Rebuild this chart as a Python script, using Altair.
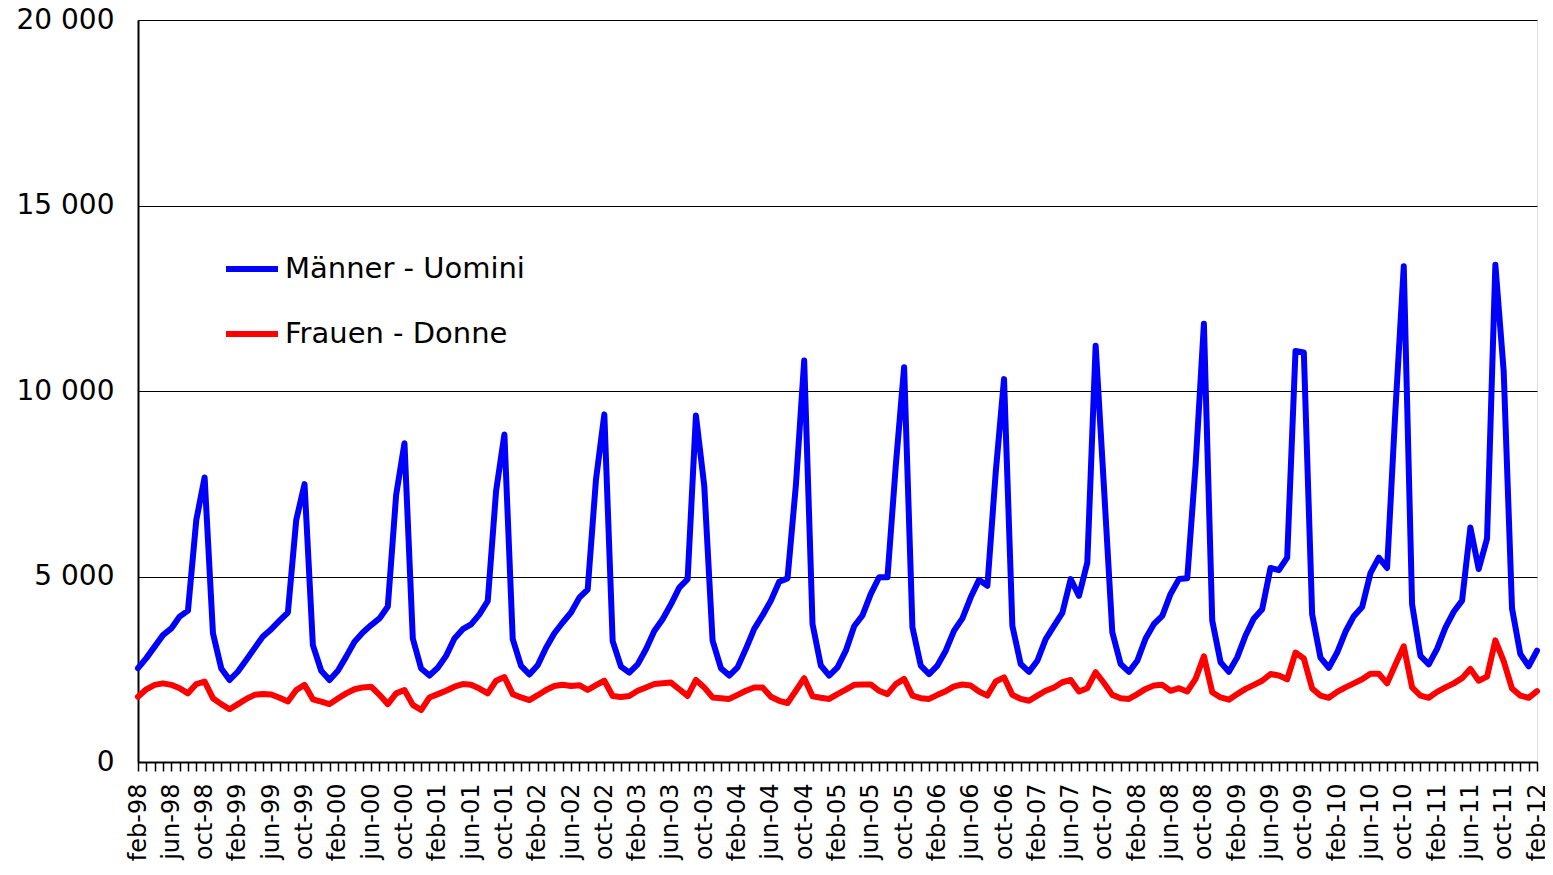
import json
import altair as alt
import pandas as pd

men = [2530, 2800, 3110, 3420, 3600, 3920, 4080, 6520, 7670, 3470, 2520, 2210,
       2440, 2750, 3070, 3380, 3580, 3810, 4030, 6520, 7490, 3150, 2460, 2210,
       2460, 2840, 3240, 3490, 3690, 3870, 4190, 7200, 8590, 3330, 2520, 2330,
       2540, 2860, 3330, 3580, 3710, 3980, 4340, 7300, 8830, 3310, 2590, 2360,
       2610, 3080, 3470, 3760, 4030, 4430, 4650, 7620, 9370, 3260, 2570, 2410,
       2630, 3040, 3530, 3850, 4250, 4700, 4930, 9340, 7440, 3270, 2530, 2330,
       2550, 3050, 3590, 3950, 4350, 4860, 4950, 7450, 10820, 3720, 2600, 2330,
       2550, 3000, 3660, 3950, 4530, 4980, 4980, 7990, 10640, 3630, 2600, 2370,
       2600, 3000, 3540, 3870, 4440, 4910, 4750, 7810, 10320, 3670, 2640, 2430,
       2730, 3310, 3670, 4020, 4930, 4480, 5380, 11220, 7400, 3500, 2640, 2430,
       2730, 3330, 3720, 3940, 4530, 4930, 4950, 7990, 11810, 3810, 2690, 2430,
       2820, 3410, 3870, 4120, 5230, 5170, 5510, 11080, 11040, 3980, 2815, 2540,
       2950, 3510, 3930, 4180, 5090, 5510, 5230, 9490, 13360, 4250, 2860, 2630,
       3050, 3620, 4050, 4350, 6320, 5200, 6020, 13400, 10530, 4140, 2910, 2580,
       3000]

women = [1760, 1960, 2080, 2120, 2080, 1990, 1850, 2100, 2170, 1720, 1560, 1420,
         1560, 1700, 1810, 1830, 1820, 1730, 1630, 1940, 2080, 1690, 1630, 1560,
         1710, 1850, 1960, 2010, 2030, 1810, 1560, 1850, 1940, 1540, 1400, 1740,
         1830, 1920, 2030, 2100, 2080, 1980, 1850, 2190, 2290, 1830, 1740, 1670,
         1800, 1940, 2050, 2080, 2050, 2070, 1940, 2070, 2190, 1780, 1750, 1780,
         1920, 2010, 2100, 2120, 2140, 1960, 1780, 2210, 2010, 1740, 1720, 1700,
         1810, 1920, 2010, 2010, 1760, 1650, 1590, 1920, 2260, 1770, 1730, 1700,
         1830, 1950, 2080, 2090, 2090, 1920, 1830, 2100, 2240, 1790, 1720, 1700,
         1810, 1910, 2040, 2090, 2060, 1900, 1790, 2170, 2280, 1810, 1700, 1650,
         1790, 1920, 2010, 2150, 2210, 1900, 1990, 2420, 2130, 1810, 1720, 1700,
         1830, 1970, 2060, 2080, 1920, 1990, 1900, 2240, 2850, 1880, 1740, 1680,
         1830, 1970, 2080, 2190, 2370, 2330, 2230, 2950, 2790, 1980, 1790, 1730,
         1890, 2010, 2120, 2230, 2380, 2380, 2120, 2630, 3120, 2010, 1790, 1730,
         1890, 2010, 2120, 2260, 2510, 2190, 2300, 3280, 2720, 1980, 1790, 1730,
         1910]

series_names = ["Männer - Uomini", "Frauen - Donne"]
series_colors = ["#0000FF", "#FF0000"]

tick_labels = []
for yy in range(98, 112):
    y2 = f"{yy % 100:02d}"
    tick_labels += [f"feb-{y2}", f"jun-{y2}", f"oct-{y2}"]
tick_labels.append("feb-12")

n = len(men)
df = pd.DataFrame({
    "i": list(range(n)) * 2,
    "value": men + women,
    "series": [series_names[0]] * n + [series_names[1]] * n,
})

label_expr = ("datum.value % 4 == 0 ? " + json.dumps(tick_labels)
              + "[datum.value / 4] : ''")

chart = alt.Chart(df).mark_line(strokeWidth=6, strokeJoin="round", strokeCap="round").encode(
    x=alt.X("i:Q",
            scale=alt.Scale(domain=[0, n - 1], nice=False, zero=False),
            axis=alt.Axis(values=list(range(n)), labelExpr=label_expr, title=None,
                          labelAngle=-90, labelOverlap=False, labelFlush=False,
                          labelBound=False, grid=False, tickSize=9, tickColor="black",
                          tickWidth=1.5, domainColor="black", domainWidth=2,
                          labelPadding=12, labelFont="DejaVu Sans", labelFontSize=24,
                          labelColor="black")),
    y=alt.Y("value:Q",
            scale=alt.Scale(domain=[0, 20000], nice=False),
            axis=alt.Axis(values=[0, 5000, 10000, 15000, 20000],
                          labelExpr="replace(format(datum.value, ',d'), ',', ' ')",
                          title=None, grid=True, gridColor="black", gridWidth=1,
                          ticks=False, domainColor="black", domainWidth=2,
                          labelPadding=24, labelFont="DejaVu Sans", labelFontSize=28,
                          labelColor="black")),
    color=alt.Color("series:N",
                    scale=alt.Scale(domain=series_names, range=series_colors),
                    sort=series_names,
                    legend=alt.Legend(title=None, orient="none", legendX=85, legendY=220,
                                      symbolType="stroke", symbolSize=2700,
                                      symbolStrokeWidth=6, labelFont="DejaVu Sans",
                                      labelFontSize=29, labelColor="black",
                                      labelLimit=500, rowPadding=21, labelOffset=4,
                                      padding=0)),
    order=alt.Order("series:N", sort="descending"),
).properties(
    width=1399, height=742,
    autosize=alt.AutoSizeParams(type="none"),
    padding={"left": 130, "top": 12, "right": 8, "bottom": 104},
).configure_view(stroke=None).configure(background="white")

chart.save("out.html", embed_options={"renderer": "svg", "actions": False})
